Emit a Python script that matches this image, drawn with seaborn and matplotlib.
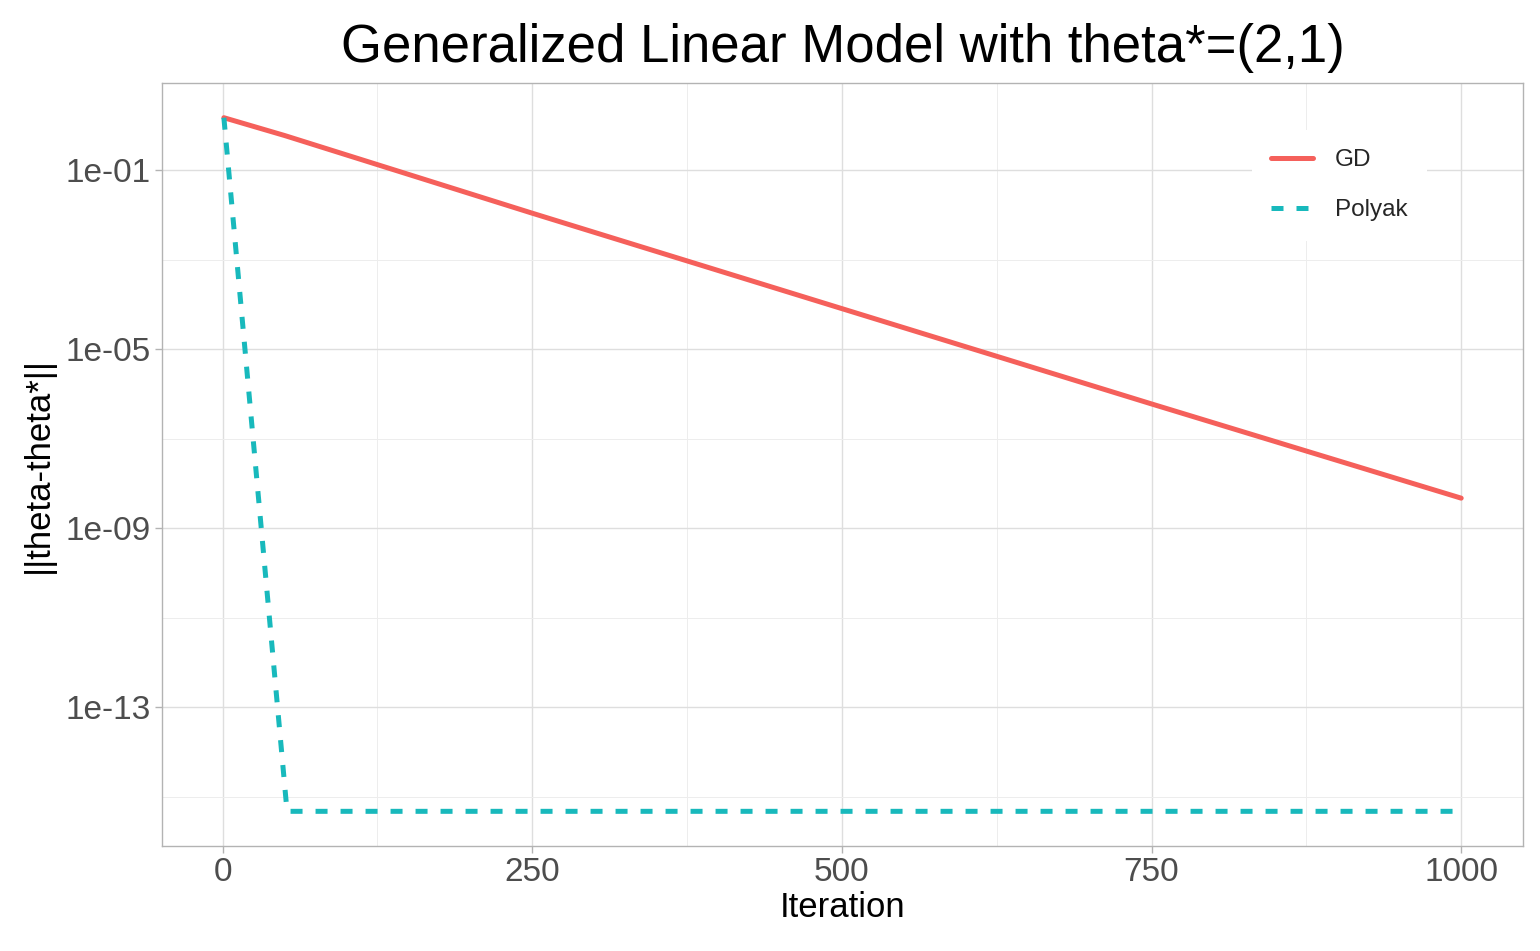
import numpy as np
import pandas as pd
import matplotlib
matplotlib.use("Agg")
import matplotlib.pyplot as plt
import matplotlib.ticker as mticker
import seaborn as sns

# values
gd_iter = [1, 50, 250, 500, 750, 1000]
gd_err = [1.5, 0.6, 1.1e-2, 8.1e-5, 6.0e-7, 4.7e-9]

polyak_iter = [1, 52, 1000]
polyak_err = [1.5, 4.7e-16, 4.7e-16]

methods = ["GD", "Polyak"]
palette = {"GD": "#F5605B", "Polyak": "#18B9BC"}

ytick_vals = [1e-1, 1e-5, 1e-9, 1e-13]
ytick_labels = ["1e-01", "1e-05", "1e-09", "1e-13"]
yminor_vals = [1e-3, 1e-7, 1e-11, 1e-15]

df = pd.concat([
    pd.DataFrame({"Iteration": gd_iter, "err": gd_err, "method": "GD"}),
    pd.DataFrame({"Iteration": polyak_iter, "err": polyak_err, "method": "Polyak"}),
])

sns.set_theme(style="white")
plt.rcParams["font.family"] = ["Liberation Sans", "DejaVu Sans"]

fig, ax = plt.subplots(figsize=(15.4, 9.51), dpi=100)
fig.subplots_adjust(left=0.1052, right=0.989, top=0.9127, bottom=0.1104)

sns.lineplot(data=df, x="Iteration", y="err", hue="method", style="method",
             hue_order=methods, style_order=methods, palette=palette,
             dashes={"GD": "", "Polyak": (2.4, 2.6)}, linewidth=3.6, ax=ax,
             estimator=None, sort=False)

ax.set_yscale("log")
ax.margins(x=0.05, y=0.05)

ax.xaxis.set_major_locator(mticker.FixedLocator([0, 250, 500, 750, 1000]))
ax.xaxis.set_minor_locator(mticker.FixedLocator([125, 375, 625, 875]))
ax.yaxis.set_major_locator(mticker.FixedLocator(ytick_vals))
ax.yaxis.set_major_formatter(mticker.FixedFormatter(ytick_labels))
ax.yaxis.set_minor_locator(mticker.FixedLocator(yminor_vals))
ax.yaxis.set_minor_formatter(mticker.NullFormatter())

ax.grid(which="major", color="#DEDEDE", linewidth=1.0)
ax.grid(which="minor", color="#EDEDED", linewidth=0.7)
ax.set_axisbelow(True)

for s in ax.spines.values():
    s.set_color("#B3B3B3")
    s.set_linewidth(1.0)

ax.tick_params(which="major", axis="both", length=5, width=1.0, color="#B3B3B3",
               labelsize=24, labelcolor="#4D4D4D", direction="out", pad=3)
ax.tick_params(which="minor", length=0)
ax.tick_params(axis="x", bottom=True)
ax.tick_params(axis="y", left=True)

ax.set_xlabel("Iteration", fontsize=25, color="black", labelpad=2)
ax.set_ylabel("||theta-theta*||", fontsize=25, color="black", labelpad=8)
ax.set_title("Generalized Linear Model with theta*=(2,1)", fontsize=38,
             color="black", pad=15)

handles, labels = ax.get_legend_handles_labels()
leg = ax.legend(handles, labels, loc="center", bbox_to_anchor=(0.865, 0.866),
                fontsize=17.5, frameon=True, facecolor="white", edgecolor="none",
                framealpha=1, fancybox=False, handlelength=1.7,
                handletextpad=0.9, labelspacing=1.15, borderpad=0.8)
for line in leg.get_lines():
    line.set_linewidth(3.6)

fig.savefig("out.png", dpi=100)
